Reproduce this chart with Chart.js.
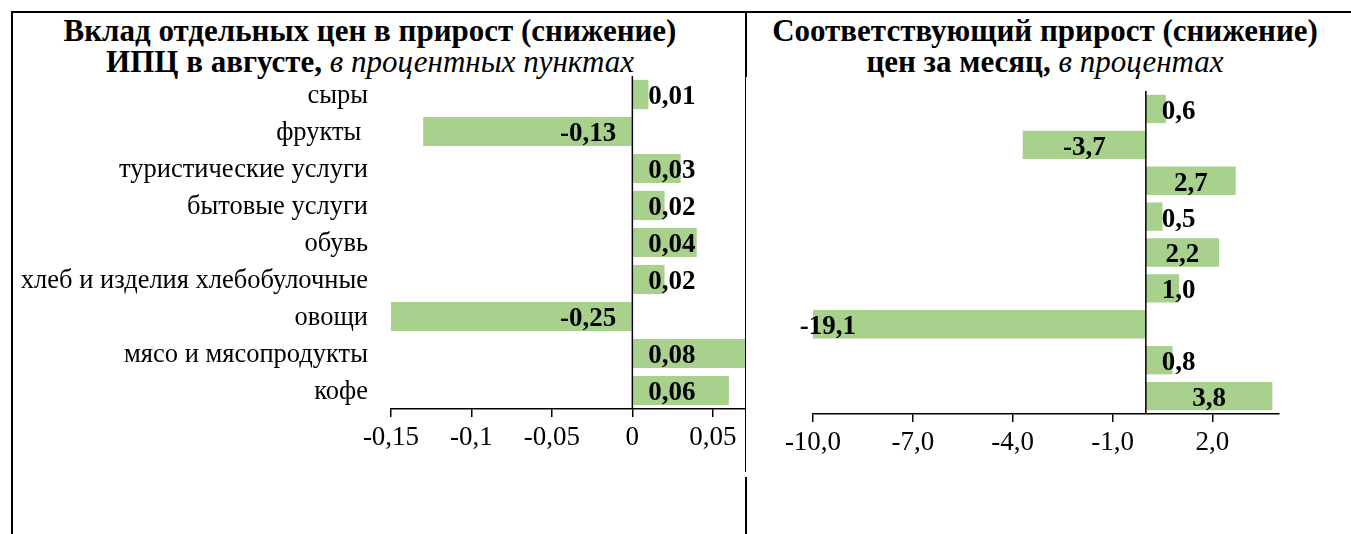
<!DOCTYPE html>
<html lang="ru">
<head>
<meta charset="utf-8">
<script src="https://cdn.jsdelivr.net/npm/chart.js@4.4.0/dist/chart.umd.min.js"></script>
<style>
  html, body { margin: 0; padding: 0; background: #fff; }
  body { width: 1351px; height: 534px; position: relative; overflow: hidden; font-family: 'Liberation Serif', 'Times New Roman', serif; }
  .rule { position: absolute; background: #000; }
  .title { position: absolute; top: 15px; text-align: center; font-size: 31px; line-height: 31px; font-weight: bold; color: #000; white-space: nowrap; }
  .title i { font-weight: normal; }
  .panel { position: absolute; top: 0; height: 534px; }
</style>
</head>
<body>
<div class="rule" style="left:11px; top:11px; width:1340px; height:2px"></div>
<div class="rule" style="left:11px; top:11px; width:2px; height:523px"></div>
<div class="rule" style="left:745px; top:11px; width:2px; height:66px"></div>
<div class="rule" style="left:745px; top:76px; width:1px; height:396px"></div>
<div class="rule" style="left:745px; top:477px; width:2px; height:57px"></div>

<div class="title" style="left:12px; width:716px">Вклад отдельных цен в прирост (снижение)<br>ИПЦ в августе, <i>в процентных пунктах</i></div>
<div class="title" style="left:747px; width:596px">Соответствующий прирост (снижение)<br>цен за месяц, <i>в процентах</i></div>

<div class="panel" style="left:0; width:746px"><canvas id="contribChart"></canvas></div>
<div class="panel" style="left:746px; width:605px"><canvas id="priceChart"></canvas></div>

<script>
const categories = ['сыры', 'фрукты ', 'туристические услуги', 'бытовые услуги', 'обувь',
    'хлеб и изделия хлебобулочные', 'овощи', 'мясо и мясопродукты', 'кофе'];
const contribution = [0.01, -0.13, 0.03, 0.02, 0.04, 0.02, -0.25, 0.08, 0.06];
const priceChange = [0.6, -3.7, 2.7, 0.5, 2.2, 1.0, -19.1, 0.8, 3.8];
const contribTicks = [-0.15, -0.1, -0.05, 0, 0.05];
const priceTicks = [-10, -7, -4, -1, 2];

const BAR_GREEN = '#A9D18E';
Chart.defaults.font.family = "'Liberation Serif', 'Times New Roman', serif";
Chart.defaults.color = '#000';

const comma = (s) => String(s).replace('.', ',');

// zero line + value labels, drawn on top of the bars
const barLabels = {
    id: 'barLabels',
    afterDatasetsDraw(chart, args, opts) {
        const { ctx, chartArea } = chart;
        const x = chart.scales.x;
        const zero = x.getPixelForValue(0);
        ctx.save();
        ctx.strokeStyle = '#000';
        ctx.lineWidth = 1.5;
        ctx.beginPath();
        ctx.moveTo(zero, chartArea.top);
        ctx.lineTo(zero, chartArea.bottom);
        ctx.stroke();

        ctx.font = "bold 27px 'Liberation Serif', 'Times New Roman', serif";
        ctx.fillStyle = '#000';
        ctx.textAlign = 'center';
        ctx.textBaseline = 'middle';
        const values = chart.data.datasets[0].data;
        chart.getDatasetMeta(0).data.forEach((bar, i) => {
            const v = values[i];
            const text = comma(v.toFixed(opts.digits));
            const w = ctx.measureText(text).width;
            let cx;
            if (opts.mode === 'base') {
                cx = v >= 0 ? zero + 16 + w / 2 : zero - 16 - w / 2;
            } else {
                cx = (bar.x + zero) / 2;
                if (v >= 0) cx = Math.max(cx, zero + 16 + w / 2);
                else cx = Math.min(cx, zero - 16 - w / 2);
            }
            ctx.fillText(text, cx, bar.y + 3);
        });
        ctx.restore();
    }
};

function buildChart(canvasId, values, tickValues, range, opts) {
    return new Chart(document.getElementById(canvasId), {
        type: 'bar',
        data: {
            labels: categories,
            datasets: [{
                data: values,
                backgroundColor: BAR_GREEN,
                borderWidth: 0,
                barPercentage: 0.79,
                categoryPercentage: 1,
                clip: 0
            }]
        },
        options: {
            indexAxis: 'y',
            responsive: true,
            maintainAspectRatio: false,
            animation: false,
            layout: { padding: opts.padding },
            plugins: {
                legend: { display: false },
                tooltip: { enabled: false },
                barLabels: { mode: opts.labelMode, digits: opts.digits }
            },
            scales: {
                x: {
                    min: range[0],
                    max: range[1],
                    afterBuildTicks: (scale) => { scale.ticks = tickValues.map(v => ({ value: v })); },
                    afterFit: (scale) => { scale.height = opts.xAxisHeight; },
                    border: { display: true, color: '#000', width: 1.5 },
                    grid: { drawOnChartArea: false, drawTicks: true, tickLength: 8, tickColor: '#000', lineWidth: 1.5 },
                    ticks: {
                        font: { size: 27 },
                        padding: 5,
                        maxRotation: 0,
                        autoSkip: false,
                        callback: (v) => opts.tickFormat(v)
                    }
                },
                y: {
                    display: opts.showCategories,
                    afterFit: (scale) => { if (opts.yAxisWidth) scale.width = opts.yAxisWidth; },
                    border: { display: false },
                    grid: { display: false, drawTicks: false },
                    ticks: { font: { size: 26.5 }, padding: 23, labelOffset: 2 }
                }
            }
        },
        plugins: [barLabels]
    });
}

buildChart('contribChart', contribution, contribTicks, [-0.15, 0.07], {
    padding: { top: 76, right: 1, left: 0, bottom: 0 },
    xAxisHeight: 125,
    yAxisWidth: 391,
    showCategories: true,
    labelMode: 'base',
    digits: 2,
    tickFormat: (v) => comma(v)
});

buildChart('priceChart', priceChange, priceTicks, [-10, 4], {
    padding: { top: 91, right: 72, left: 67, bottom: 0 },
    xAxisHeight: 120,
    showCategories: false,
    labelMode: 'center',
    digits: 1,
    tickFormat: (v) => comma(v.toFixed(1))
});
</script>
</body>
</html>
